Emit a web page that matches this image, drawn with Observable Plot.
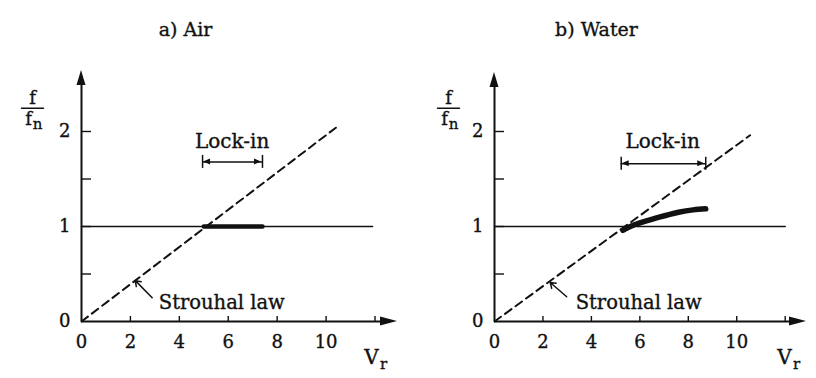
<!DOCTYPE html>
<html>
<head>
<meta charset="utf-8">
<script src="https://cdn.jsdelivr.net/npm/d3@7"></script>
<script src="https://cdn.jsdelivr.net/npm/@observablehq/plot@0.6"></script>
<style>
  body { margin: 0; background: #fff; }
  #wrap { display: flex; width: 816px; height: 378px; }
  #wrap svg { overflow: visible; }
</style>
</head>
<body>
<div id="wrap"></div>
<script>
// Frequency ratio f/f_n against reduced velocity V_r, in air and in water.
const panelTitles = ["a) Air", "b) Water"];
const xTicks = [2, 4, 6, 8, 10, 12];
const xTickLabels = [0, 2, 4, 6, 8, 10];
const yTicks = [0.5, 1, 1.5, 2];
const yTickLabels = [0, 1, 2];

// Strouhal law (end points)
const strouhalAirVr = [0, 10.4];
const strouhalAirF = [0, 2.04];
const strouhalWaterVr = [0, 10.55];
const strouhalWaterF = [0, 1.96];

// natural frequency f/f_n = 1
const naturalAirVr = [0, 11.9];
const naturalWaterVr = [0, 12];
const naturalF = [1, 1];

// shedding frequency while locked in
const lockAirVr = [5.0, 7.4];
const lockAirF = [1.0, 1.0];
const lockWaterVr = [5.3, 5.7, 6.1, 6.8, 7.6, 8.2, 8.72];
const lockWaterF = [0.96, 1.01, 1.045, 1.098, 1.15, 1.175, 1.186];

// lock-in range
const lockRangeAir = [4.95, 7.4];
const lockRangeWater = [5.23, 8.72];

const zip = (xs, ys) => xs.map((x, i) => ({x, y: ys[i]}));
const FONT = "DejaVu Serif";
const INK = "#111";

function panel(p) {
  const W = 408, H = 378, mT = 131, mB = 57;
  const kx = 12 / (W - p.mL - p.mR), ky = 2 / (H - mT - mB);
  const X = (px) => (px - p.mL) * kx;       // local pixel -> V_r
  const Y = (py) => (H - mB - py) * ky;     // local pixel -> f/f_n
  const xTip = X(p.xArrowTip), yTip = Y(p.yArrowTip);

  // filled arrowheads built as small areas in data space
  const headRight = (x, y, len, half) => Plot.areaY(
    [{x: x - len * kx, y1: y - half * ky, y2: y + half * ky}, {x, y1: y, y2: y}],
    {x: "x", y1: "y1", y2: "y2", fill: INK});
  const headLeft = (x, y, len, half) => Plot.areaY(
    [{x, y1: y, y2: y}, {x: x + len * kx, y1: y - half * ky, y2: y + half * ky}],
    {x: "x", y1: "y1", y2: "y2", fill: INK});
  const headUp = (x, y, len, half) => Plot.areaX(
    [{y: y - len * ky, x1: x - half * kx, x2: x + half * kx}, {y, x1: x, x2: x}],
    {y: "y", x1: "x1", x2: "x2", fill: INK});

  const [lo, hi] = p.lockRange;
  const by = p.bracketY;
  const txt = {fontFamily: FONT, fill: INK, stroke: INK, strokeWidth: 0.35};

  return Plot.plot({
    width: W, height: H,
    marginLeft: p.mL, marginRight: p.mR, marginTop: mT, marginBottom: mB,
    x: {domain: [0, 12], axis: null},
    y: {domain: [0, 2], axis: null},
    style: {background: "#fff", fontFamily: FONT, overflow: "visible"},
    marks: [
      // axes with arrowheads
      Plot.ruleY([0], {x1: 0, x2: xTip - 8 * kx, stroke: INK, strokeWidth: 2}),
      Plot.ruleX([0], {y1: 0, y2: yTip - 8 * ky, stroke: INK, strokeWidth: 2}),
      headRight(xTip, 0, 17, 4.5),
      headUp(0, yTip, 15, 4.5),
      Plot.ruleX(xTicks, {y1: 0, y2: 5 * ky, stroke: INK, strokeWidth: 1.4}),
      Plot.ruleY(yTicks, {x1: 0, x2: 10 * kx, stroke: INK, strokeWidth: 1.4}),
      Plot.text(xTickLabels, {x: (d) => d, y: 0, dy: 21, text: (d) => String(d), fontSize: 18, ...txt}),
      Plot.text(yTickLabels, {x: 0, y: (d) => d, dx: -11, textAnchor: "end", text: (d) => String(d), fontSize: 18, ...txt}),

      // axis titles: f / f_n and V_r
      Plot.text(["f"], {x: X(p.fracX), y: Y(98), text: (d) => d, fontSize: 18, ...txt}),
      Plot.line([{x: X(p.fracX - 11), y: Y(107.7)}, {x: X(p.fracX + 11), y: Y(107.7)}],
        {x: "x", y: "y", stroke: INK, strokeWidth: 1.5}),
      Plot.text(["f"], {x: X(p.fracX - 4), y: Y(119), text: (d) => d, fontSize: 18, ...txt}),
      Plot.text(["n"], {x: X(p.fracX + 5), y: Y(124), text: (d) => d, fontSize: 15, ...txt}),
      Plot.text(["V"], {x: X(p.vX), y: Y(357), text: (d) => d, fontSize: 20, ...txt}),
      Plot.text(["r"], {x: X(p.vX + 12), y: Y(364), text: (d) => d, fontSize: 15, ...txt}),

      // panel title
      Plot.text([p.title], {x: X(p.titleX), y: Y(29), text: (d) => d, fontSize: 19, ...txt}),

      // natural frequency and Strouhal law
      Plot.line(zip(p.naturalVr, naturalF), {x: "x", y: "y", stroke: INK, strokeWidth: 1.6}),
      Plot.line(zip(p.strouhalVr, p.strouhalF),
        {x: "x", y: "y", stroke: INK, strokeWidth: 2, strokeDasharray: "8,5"}),

      // locked-in frequency
      Plot.line(zip(p.lockVr, p.lockF),
        {x: "x", y: "y", stroke: INK, strokeWidth: p.lockWidth, strokeLinecap: "round", curve: "natural"}),

      // lock-in range bracket
      Plot.ruleY([by], {x1: lo, x2: hi, stroke: INK, strokeWidth: 1.5}),
      Plot.ruleX([lo, hi], {y1: by - 6.5 * ky, y2: by + 6.5 * ky, stroke: INK, strokeWidth: 1.5}),
      headLeft(lo + 1 * kx, by, 7, 3),
      headRight(hi - 1 * kx, by, 7, 3),
      Plot.text(["Lock-in"], {x: p.lockLabel[0], y: p.lockLabel[1], text: (d) => d, fontSize: 20, ...txt}),

      // Strouhal law label with leader
      Plot.arrow([p.leader], {x1: (d) => d[2], y1: (d) => d[3], x2: (d) => d[0], y2: (d) => d[1],
        stroke: INK, strokeWidth: 1.5, headLength: 6, headAngle: 70}),
      Plot.text(["Strouhal law"], {x: p.strouhalLabel[0], y: p.strouhalLabel[1], textAnchor: "start",
        text: (d) => d, fontSize: 19.5, ...txt})
    ]
  });
}

const wrap = document.getElementById("wrap");
wrap.append(panel({
  title: panelTitles[0], titleX: 185,
  mL: 81, mR: 33.5, xArrowTip: 397, yArrowTip: 70,
  fracX: 32, vX: 371,
  naturalVr: naturalAirVr,
  strouhalVr: strouhalAirVr, strouhalF: strouhalAirF,
  lockVr: lockAirVr, lockF: lockAirF, lockWidth: 4.5,
  lockRange: lockRangeAir, bracketY: 1.68, lockLabel: [6.16, 1.89],
  leader: [2.2, 0.43, 2.89, 0.25], strouhalLabel: [3.16, 0.2]
}));
wrap.append(panel({
  title: panelTitles[1], titleX: 188,
  mL: 86, mR: 31.3, xArrowTip: 398, yArrowTip: 72,
  fracX: 40, vX: 376,
  naturalVr: naturalWaterVr,
  strouhalVr: strouhalWaterVr, strouhalF: strouhalWaterF,
  lockVr: lockWaterVr, lockF: lockWaterF, lockWidth: 5.5,
  lockRange: lockRangeWater, bracketY: 1.66, lockLabel: [6.94, 1.89],
  leader: [2.3, 0.41, 2.98, 0.26], strouhalLabel: [3.35, 0.2]
}));
</script>
</body>
</html>
